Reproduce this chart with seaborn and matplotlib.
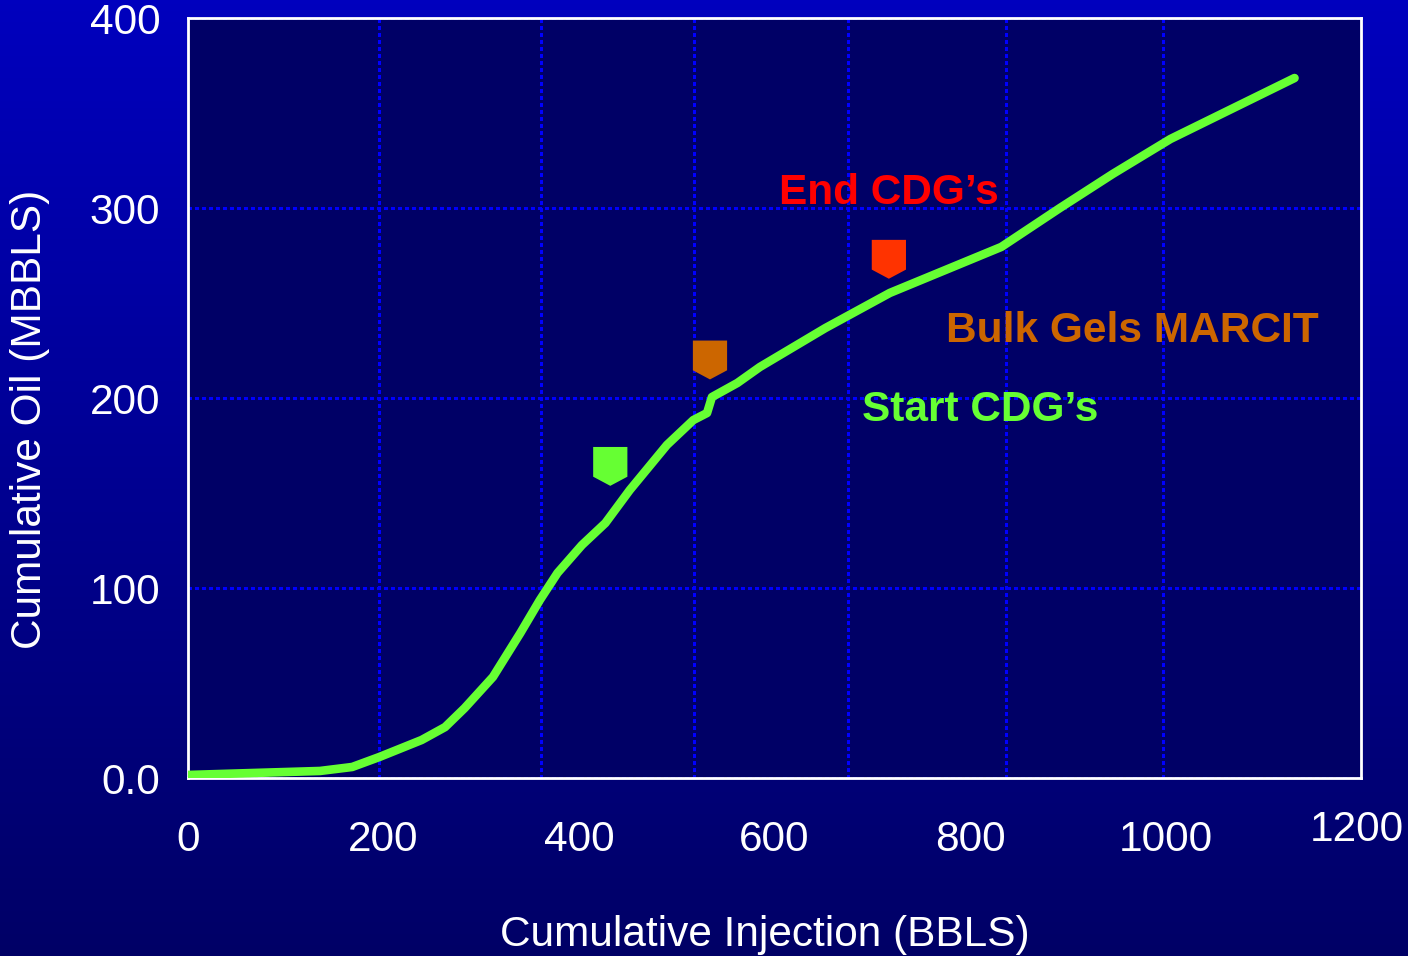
import numpy as np
import pandas as pd
import matplotlib
matplotlib.use("Agg")
import matplotlib.pyplot as plt
from matplotlib.colors import LinearSegmentedColormap
from matplotlib.transforms import ScaledTranslation
import seaborn as sns

# ---- data ----
injection = [0, 135, 168, 196, 239, 263, 283, 312, 340, 360, 378, 403, 427, 452,
             490, 517, 531, 536, 562, 585, 652, 718, 832, 892, 946, 1005, 1132]
oil = [1.6, 3.7, 5.8, 11.1, 20.0, 26.8, 36.8, 53.2, 76.3, 93.7, 107.9, 122.6, 134.2,
       151.6, 175.3, 188.4, 192.1, 200.5, 207.9, 216.3, 236.8, 255.3, 279.5, 300.0,
       317.9, 336.3, 368.4]

event_names = ["Start CDG\u2019s", "Bulk Gels MARCIT", "End CDG\u2019s"]
event_x = [432, 534, 717]
event_y = [164, 220, 273]
event_colors = ["#66FF33", "#CC6600", "#FF3300"]
label_colors = ["#66FF33", "#CC6600", "#FF0000"]
label_x = [810, 966, 717]
label_y = [193.5, 235, 308]

xticks = [0, 200, 400, 600, 800, 1000, 1200]
xticklabels = ["0", "200", "400", "600", "800", "1000", "1200"]
yticks = [0, 100, 200, 300, 400]
yticklabels = ["0.0", "100", "200", "300", "400"]
grid_x = [195, 361, 518, 675, 837, 997]

# ---- style ----
sns.set_theme(style="dark")
plt.rcParams['font.family'] = ['Liberation Sans', 'DejaVu Sans']

FS = 30.5

fig = plt.figure(figsize=(14.08, 9.56), dpi=100)

# gradient background
bg = fig.add_axes([0, 0, 1, 1], zorder=-10)
cmap = LinearSegmentedColormap.from_list("bg", ["#0000BE", "#000066"])
bg.imshow(np.linspace(0, 1, 256).reshape(-1, 1), aspect="auto", cmap=cmap,
          extent=[0, 1, 0, 1])
bg.set_axis_off()

ax = fig.add_axes([188/1408, 1-778/956, (1361-188)/1408, (778-18)/956])
ax.set_facecolor("#000066")

df = pd.DataFrame({"injection": injection, "oil": oil})
sns.lineplot(data=df, x="injection", y="oil", ax=ax, color="#66FF33",
             linewidth=6.2, sort=False, zorder=4)

shield = [(-0.88, 1.0), (0.88, 1.0), (0.88, -0.53), (0.0, -1.0), (-0.88, -0.53)]
ev = pd.DataFrame({"x": event_x, "y": event_y, "event": event_names})
sns.scatterplot(data=ev, x="x", y="y", hue="event", palette=event_colors,
                marker=shield, s=28**2, linewidth=0, ax=ax, legend=False, zorder=5)

for name, lx, ly, c in zip(event_names, label_x, label_y, label_colors):
    ax.text(lx, ly, name, color=c, fontsize=FS, fontweight="bold",
            ha="center", va="center", zorder=6)

ax.set_xlim(0, 1200)
ax.set_ylim(0, 400)
ax.set_xticks(xticks)
ax.set_xticklabels(xticklabels)
ax.set_yticks(yticks)
ax.set_yticklabels(yticklabels)
ax.set_xticks(grid_x, minor=True)
ax.tick_params(axis="both", which="both", length=0, colors="white", labelsize=FS)
ax.tick_params(axis="x", pad=30)
ax.tick_params(axis="y", pad=20)
grid_kw = dict(color="#0000FF", linestyle=(0, (1, 1.1)), linewidth=2.2, antialiased=False)
ax.xaxis.grid(False, which="major")
ax.xaxis.grid(True, which="minor", **grid_kw)
ax.yaxis.grid(True, which="major", **grid_kw)

for s in ax.spines.values():
    s.set_visible(True)
    s.set_color("white")
    s.set_linewidth(2)

ax.set_xlabel("Cumulative Injection (BBLS)", color="white", fontsize=FS)
ax.set_ylabel("Cumulative Oil (MBBLS)", color="white", fontsize=FS)
ax.xaxis.set_label_coords(0.492, -0.180)
ax.yaxis.set_label_coords(-0.118, 0.472)

# 1200 label slightly raised, as in the reference
lbl = ax.get_xticklabels()[-1]
lbl.set_transform(lbl.get_transform() + ScaledTranslation(-0.04, 0.1, fig.dpi_scale_trans))

fig.savefig("out.png", dpi=100, facecolor=fig.get_facecolor())
